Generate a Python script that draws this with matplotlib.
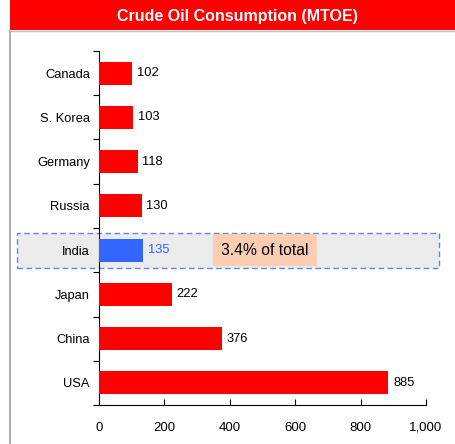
import matplotlib.pyplot as plt
from matplotlib.patches import Rectangle
from matplotlib.lines import Line2D
from matplotlib.ticker import FuncFormatter

plt.rcParams['font.family'] = ['Liberation Sans', 'DejaVu Sans']

countries = ["USA", "China", "Japan", "India", "Russia", "Germany", "S. Korea", "Canada"]
consumption = [885, 376, 222, 135, 130, 118, 103, 102]
highlight = "India"
note = "3.4% of total"

fig = plt.figure(figsize=(4.56, 4.44), dpi=100)

# title banner and frame
fig.patches.append(Rectangle((10 / 456, 1 - 30 / 444), 1, 30 / 444, transform=fig.transFigure,
                             facecolor="#FF0000", edgecolor="none"))
fig.text(0.52, 1 - 16 / 444, "Crude Oil Consumption (MTOE)", color="white", fontsize=11.5,
         fontweight="bold", ha="center", va="center")
fig.lines.append(Line2D([10 / 456, 10 / 456], [0, 1 - 30 / 444], transform=fig.transFigure,
                        color="#A0A0A0", lw=1.2))
fig.lines.append(Line2D([10 / 456, 1], [1 - 31 / 444, 1 - 31 / 444], transform=fig.transFigure,
                        color="#C0C0C0", lw=1.0))

ax = fig.add_axes([99 / 456, 1 - 405 / 444, 327 / 456, 354 / 444])
ax.set_facecolor("none")
ypos = list(range(len(countries)))
colors = ["#3366FF" if c == highlight else "#FF0000" for c in countries]
ax.barh(ypos, consumption, height=0.52, color=colors, zorder=3)

for y, v, c in zip(ypos, consumption, countries):
    ax.text(v + 15, y, str(v), va="center", ha="left", fontsize=9.3,
            color="#3366FF" if c == highlight else "black", zorder=4)

hi = countries.index(highlight)
# highlight band (extends beyond the axes)
band = Rectangle((17 / 456, 1 - 268 / 444), 422 / 456, 35 / 444, transform=fig.transFigure,
                 facecolor="#EBEBEB", edgecolor="#5B85F0", linestyle=(0, (4, 2.5)), lw=1.0,
                 zorder=1, clip_on=False)
ax.add_patch(band)
ax.text(508, hi, note, ha="center", va="center", fontsize=11.3, zorder=4,
        bbox=dict(boxstyle="square,pad=0.55", facecolor="#FCCDB3", edgecolor="none"))

ax.set_xlim(0, 1000)
ax.set_ylim(-0.5, len(countries) - 0.5)
ax.set_xticks(range(0, 1001, 200))
ax.xaxis.set_major_formatter(FuncFormatter(lambda v, p: f"{int(v):,}"))
ax.set_yticks(ypos)
ax.set_yticklabels(countries)
ax.set_yticks([i - 0.5 for i in range(len(countries) + 1)], minor=True)
ax.tick_params(axis="y", which="major", length=0, pad=6.5, labelsize=9.3)
ax.tick_params(axis="y", which="minor", length=4, direction="out", width=0.8)
ax.tick_params(axis="x", length=4, direction="in", width=0.8, labelsize=9.5, pad=12)
for s in ["top", "right"]:
    ax.spines[s].set_visible(False)
ax.spines["left"].set_linewidth(0.8)
ax.spines["bottom"].set_linewidth(0.8)

fig.savefig("out.png", dpi=100)
